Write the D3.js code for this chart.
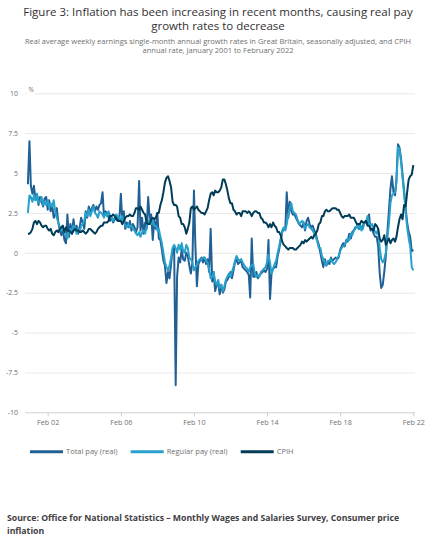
<!DOCTYPE html>
<html lang="en">
<head>
    <meta charset="UTF-8">
    <title>Figure 3: real pay growth and CPIH</title>
    <script src="https://d3js.org/d3.v7.min.js"></script>
    <style>
      body { margin: 0; background: #fff; }
      text { font-family: "Open Sans", sans-serif; }
    </style>
</head>
<body>
<div class="chart"></div>
<script>
  // monthly values, January 2001 to February 2022 (one row per year)
  const totalPay = [
    4.3, 7.0, 4.2, 3.7, 4.2, 3.3, 3.7, 3.0, 3.5, 3.2, 2.9, 3.4,
    3.5, 2.7, 3.3, 2.6, 3.0, 2.2, 2.4, 2.8, 1.9, 1.4, 1.1, 1.5,
    0.8, 0.6, 2.4, 1.0, 1.8, 1.2, 2.1, 1.4, 1.7, 1.2, 1.6, 2.2,
    1.9, 1.5, 2.6, 2.2, 2.9, 2.5, 2.8, 3.0, 2.6, 2.9, 2.7, 3.0,
    3.1, 3.8, 2.3, 2.6, 2.5, 2.2, 2.0, 2.2, 1.9, 2.1, 2.3, 2.1,
    2.0, 3.7, 2.1, 2.6, 1.5, 1.9, 1.6, 2.0, 1.4, 1.8, 1.6, 1.3,
    1.6, 4.5, 1.4, 2.2, 1.2, 1.9, 1.5, 3.5, 2.1, 2.4, 0.8, 2.0,
    1.5, 2.5, 0.9, 0.8, 0.2, -0.5, -0.8, -1.9, -1.2, -1.6, -0.7, 0.2,
    0.3, -8.3, -1.5, -0.3, -0.6, 0.2, -0.4, -0.5, 0.0, -0.2, -0.8, -1.3,
    -0.6, 3.9, 0.5, -2.1, -0.7, -0.5, -0.3, -0.6, -0.3, -0.7, -0.4, -1.2,
    1.5, -1.8, -1.2, -2.4, -2.0, -1.9, -2.6, -2.0, -2.5, -2.3, -1.8, -1.7,
    -1.5, -1.2, -1.6, -1.1, -0.6, -0.4, -0.7, -0.6, -0.5, -0.9, -1.0, -1.1,
    -1.2, -1.4, -2.8, 0.9, -1.5, -1.5, -1.2, -1.6, -1.4, -1.3, -1.2, -1.1,
    -1.2, -1.0, 0.8, -2.9, -1.3, -1.0, -0.9, -0.9, -0.2, 0.2, 0.8, 1.3,
    1.5, 1.5, 3.8, 2.2, 3.2, 2.6, 2.4, 2.4, 2.2, 2.0, 1.8, 1.7,
    1.6, 1.9, 1.4, 2.0, 2.2, 1.8, 1.6, 1.7, 1.4, 1.2, 0.8, 0.5,
    0.0, -0.5, -0.9, -0.4, -0.8, -0.6, -0.7, -0.3, -0.5, -0.4, -0.3, -0.4,
    -0.3, 0.2, 0.4, 0.6, 0.4, 0.8, 0.7, 1.2, 0.9, 1.3, 1.4, 1.6,
    1.6, 1.8, 1.5, 1.6, 1.7, 1.9, 2.0, 1.8, 2.4, 1.4, 1.5, 1.2,
    1.0, 1.0, 0.4, -1.3, -2.2, -2.0, -1.2, -0.2, 1.3, 2.6, 4.0, 4.8,
    3.8, 3.6, 4.6, 6.8, 6.6, 5.9, 4.9, 3.9, 2.8, 1.9, 1.3, 1.0,
    0.1, 0.2
  ];
  const regularPay = [
    2.5, 3.6, 3.5, 3.2, 3.6, 3.3, 3.7, 3.1, 3.2, 3.5, 3.0, 3.2,
    3.0, 3.3, 2.8, 3.1, 2.9, 3.3, 2.6, 2.2, 1.9, 1.6, 1.4, 1.5,
    1.3, 1.2, 0.9, 1.3, 1.5, 1.4, 1.7, 1.6, 1.2, 1.5, 1.3, 1.7,
    1.8, 2.0, 2.5, 2.3, 2.7, 2.3, 2.6, 2.9, 2.5, 2.4, 2.2, 2.6,
    2.5, 2.4, 2.2, 2.5, 2.3, 2.6, 2.3, 2.2, 2.0, 2.2, 2.4, 2.3,
    2.2, 2.0, 2.3, 1.9, 1.7, 1.6, 1.8, 1.6, 1.7, 1.5, 1.4, 1.2,
    1.1, 1.3, 1.0, 1.3, 1.4, 1.2, 1.6, 1.9, 2.1, 1.8, 2.0, 1.7,
    1.7, 1.4, 1.5, 1.0, 0.6, 0.0, -0.6, -0.9, -1.1, -0.8, -0.3, 0.3,
    0.5, 0.3, 0.0, 0.5, 0.2, 0.6, 0.1, 0.0, 0.5, 0.3, -0.3, -0.4,
    -0.6, -1.1, -0.9, -0.8, -0.5, -0.4, -0.4, -0.3, -0.3, -0.5, -0.6, -1.0,
    -1.6, -1.5, -1.2, -1.8, -2.0, -1.7, -2.2, -2.0, -2.4, -2.1, -1.7, -1.5,
    -1.3, -1.5, -1.2, -0.9, -0.5, -0.2, -0.4, -0.5, -0.4, -0.6, -0.8, -0.9,
    -1.0, -1.2, -0.9, -0.8, -0.7, -1.3, -1.5, -1.4, -1.5, -1.2, -1.1, -1.0,
    -0.9, -0.6, -0.1, -0.6, -1.3, -1.0, -0.7, -0.5, 0.0, 0.4, 0.9, 1.4,
    1.6, 1.4, 1.8, 2.4, 2.8, 3.1, 2.6, 2.5, 2.4, 2.1, 1.8, 1.9,
    2.0, 1.9, 1.5, 1.7, 1.8, 1.6, 1.5, 1.4, 1.2, 1.0, 0.7, 0.3,
    0.3, -0.2, -0.4, -0.6, -0.8, -0.5, -0.5, -0.4, -0.6, -0.7, -0.6, -0.4,
    -0.2, 0.1, 0.3, 0.4, 0.5, 0.7, 0.9, 0.8, 1.2, 1.1, 1.4, 1.5,
    1.7, 1.5, 1.8, 1.4, 1.5, 1.9, 1.9, 2.3, 1.8, 1.7, 1.8, 1.5,
    1.3, 1.2, 1.5, 0.3, -0.4, -0.6, -0.4, 0.0, 0.9, 1.8, 3.1, 3.6,
    3.7, 3.8, 4.4, 6.6, 6.5, 5.7, 4.7, 3.7, 2.6, 1.6, 0.9, 0.4,
    -0.9, -1.1
  ];
  const cpih = [
    1.2, 1.2, 1.3, 1.5, 1.9, 2.0, 1.8, 2.0, 1.9, 1.7, 1.6, 1.7,
    1.7, 1.5, 1.4, 1.5, 1.2, 1.1, 1.3, 1.4, 1.3, 1.5, 1.6, 1.7,
    1.3, 1.6, 1.4, 1.4, 1.3, 1.2, 1.4, 1.5, 1.4, 1.4, 1.3, 1.3,
    1.4, 1.3, 1.2, 1.3, 1.5, 1.5, 1.4, 1.3, 1.2, 1.3, 1.5, 1.6,
    1.7, 1.7, 1.9, 1.9, 1.9, 2.0, 2.3, 2.3, 2.4, 2.3, 2.1, 2.0,
    2.0, 2.0, 1.8, 2.0, 2.2, 2.3, 2.3, 2.4, 2.3, 2.3, 2.5, 2.8,
    2.8, 2.7, 2.9, 2.7, 2.5, 2.4, 1.9, 1.8, 1.8, 2.1, 2.2, 2.1,
    2.2, 2.5, 2.5, 3.0, 3.3, 3.8, 4.4, 4.7, 4.8, 4.5, 4.1, 3.2,
    3.0, 3.0, 2.9, 2.3, 2.2, 1.8, 1.8, 1.6, 1.2, 1.5, 1.9, 2.8,
    2.9, 2.7, 2.8, 2.9, 2.7, 2.6, 2.5, 2.5, 2.4, 2.6, 2.8, 3.3,
    3.7, 3.8, 3.6, 3.9, 3.8, 3.8, 3.9, 4.1, 4.6, 4.6, 4.3, 3.9,
    3.4, 3.1, 3.1, 2.7, 2.6, 2.4, 2.5, 2.5, 2.3, 2.6, 2.6, 2.6,
    2.5, 2.6, 2.5, 2.3, 2.5, 2.6, 2.6, 2.5, 2.5, 2.2, 2.1, 1.9,
    1.9, 1.8, 1.6, 1.8, 1.6, 1.9, 1.7, 1.6, 1.3, 1.3, 1.1, 0.7,
    0.5, 0.4, 0.3, 0.2, 0.3, 0.3, 0.3, 0.2, 0.2, 0.3, 0.4, 0.5,
    0.7, 0.6, 0.8, 0.7, 0.8, 0.9, 1.0, 0.9, 1.1, 1.2, 1.4, 1.8,
    1.9, 2.3, 2.3, 2.6, 2.7, 2.6, 2.6, 2.7, 2.8, 2.8, 2.8, 2.7,
    2.7, 2.5, 2.3, 2.2, 2.3, 2.3, 2.3, 2.4, 2.2, 2.2, 2.2, 2.0,
    1.8, 1.8, 1.8, 2.0, 1.9, 1.9, 2.0, 1.7, 1.7, 1.5, 1.5, 1.4,
    1.8, 1.7, 1.5, 0.9, 0.7, 0.8, 1.1, 0.5, 0.7, 0.9, 0.6, 0.8,
    0.9, 0.7, 1.0, 1.6, 2.1, 2.4, 2.1, 3.0, 2.9, 3.8, 4.6, 4.8,
    4.9, 5.5
  ];

  const seriesNames = ['Total pay (real)', 'Regular pay (real)', 'CPIH'];
  const seriesColors = ['#206095', '#27a0cc', '#003c57'];
  const xTickDates = ['2002-02', '2006-02', '2010-02', '2014-02', '2018-02', '2022-02'];
  const xTickLabels = ['Feb 02', 'Feb 06', 'Feb 10', 'Feb 14', 'Feb 18', 'Feb 22'];
  const yTicks = [10, 7.5, 5, 2.5, 0, -2.5, -5, -7.5, -10];
  const yTickLabels = ['10', '7.5', '5', '2.5', '0', '-2.5', '-5', '-7.5', '-10'];

  const W = 436, H = 550;
  const dates = totalPay.map((d, i) => new Date(2001, i, 1));
  const series = [totalPay, regularPay, cpih];

  const svg = d3.select('.chart').append('svg')
    .attr('width', W).attr('height', H);
  svg.append('rect').attr('width', W).attr('height', H).attr('fill', '#ffffff');

  // titles
  const title = ['Figure 3: Inflation has been increasing in recent months, causing real pay', 'growth rates to decrease'];
  svg.append('g').selectAll('text').data(title).join('text')
    .attr('x', W / 2).attr('y', (d, i) => 15.5 + i * 14)
    .attr('text-anchor', 'middle')
    .style('font-size', '11.5px').style('fill', '#323132')
    .text(d => d);
  const sub = ['Real average weekly earnings single-month annual growth rates in Great Britain, seasonally adjusted, and CPIH', 'annual rate, January 2001 to February 2022'];
  svg.append('g').selectAll('text').data(sub).join('text')
    .attr('x', W / 2).attr('y', (d, i) => 43.5 + i * 9.5)
    .attr('text-anchor', 'middle')
    .style('font-size', '7.5px').style('fill', '#707070')
    .text(d => d);

  const xScale = d3.scaleTime()
    .domain([dates[0], dates[dates.length - 1]])
    .range([27.9, 413.3]);
  const yScale = d3.scaleLinear().domain([-10, 10]).range([412.3, 93.3]);

  // grid lines
  const grid = svg.append('g')
    .attr('transform', 'translate(25 0)')
    .call(d3.axisLeft(yScale).tickValues(yTicks).tickSize(-390).tickFormat(''));
  grid.select('.domain').remove();
  grid.selectAll('.tick line').attr('stroke', (d) => d === -10 ? '#d0d0d0' : '#e8e8e8');

  // y labels
  const yAxis = svg.append('g')
    .attr('transform', 'translate(19 0)')
    .call(d3.axisLeft(yScale).tickValues(yTicks).tickSize(0)
      .tickFormat((d, i) => yTickLabels[i]));
  yAxis.select('.domain').remove();
  yAxis.selectAll('text').attr('x', -1).style('font-size', '7px').style('fill', '#707070')
    .style('font-family', '"Open Sans", sans-serif');

  svg.append('rect').attr('x', 27).attr('y', 86).attr('width', 8).attr('height', 9).attr('fill', '#fff');
  svg.append('text').attr('x', 28.5).attr('y', 91.5)
    .style('font-size', '6.5px').style('fill', '#707070').text('%');

  // x axis
  const parse = d3.timeParse('%Y-%m');
  const xAxis = svg.append('g')
    .attr('transform', `translate(0 ${yScale(-10)})`)
    .call(d3.axisBottom(xScale).tickValues(xTickDates.map(parse)).tickSize(4).tickPadding(4)
      .tickFormat((d, i) => xTickLabels[i]));
  xAxis.select('.domain').remove();
  xAxis.selectAll('.tick line').attr('stroke', '#cfcfcf');
  xAxis.selectAll('text').style('font-size', '7.2px').style('fill', '#707070')
    .style('font-family', '"Open Sans", sans-serif');

  // lines
  const line = d3.line()
    .x((d, i) => xScale(dates[i]))
    .y(d => yScale(d));
  svg.append('g').selectAll('path').data(series).join('path')
    .attr('d', d => line(d))
    .attr('fill', 'none')
    .attr('stroke', (d, i) => seriesColors[i])
    .attr('stroke-width', 2)
    .attr('stroke-linejoin', 'round');

  // legend
  const legX = [30, 130.7, 240.7];
  const leg = svg.append('g').selectAll('g').data(seriesNames).join('g')
    .attr('transform', (d, i) => `translate(${legX[i]} 451.7)`);
  leg.append('line').attr('x1', 0).attr('x2', 33)
    .attr('stroke', (d, i) => seriesColors[i]).attr('stroke-width', 3);
  leg.append('text').attr('x', 36).attr('y', 2.7)
    .style('font-size', '7.5px').style('fill', '#707070').text(d => d);

  // source
  const source = ['Source: Office for National Statistics \u2013 Monthly Wages and Salaries Survey, Consumer price', 'inflation'];
  svg.append('g').selectAll('text').data(source).join('text')
    .attr('x', 7).attr('y', (d, i) => 520.5 + i * 13.5)
    .style('font-size', '8.7px').style('font-weight', 'bold').style('fill', '#414042')
    .text(d => d);
</script>
</body>
</html>
